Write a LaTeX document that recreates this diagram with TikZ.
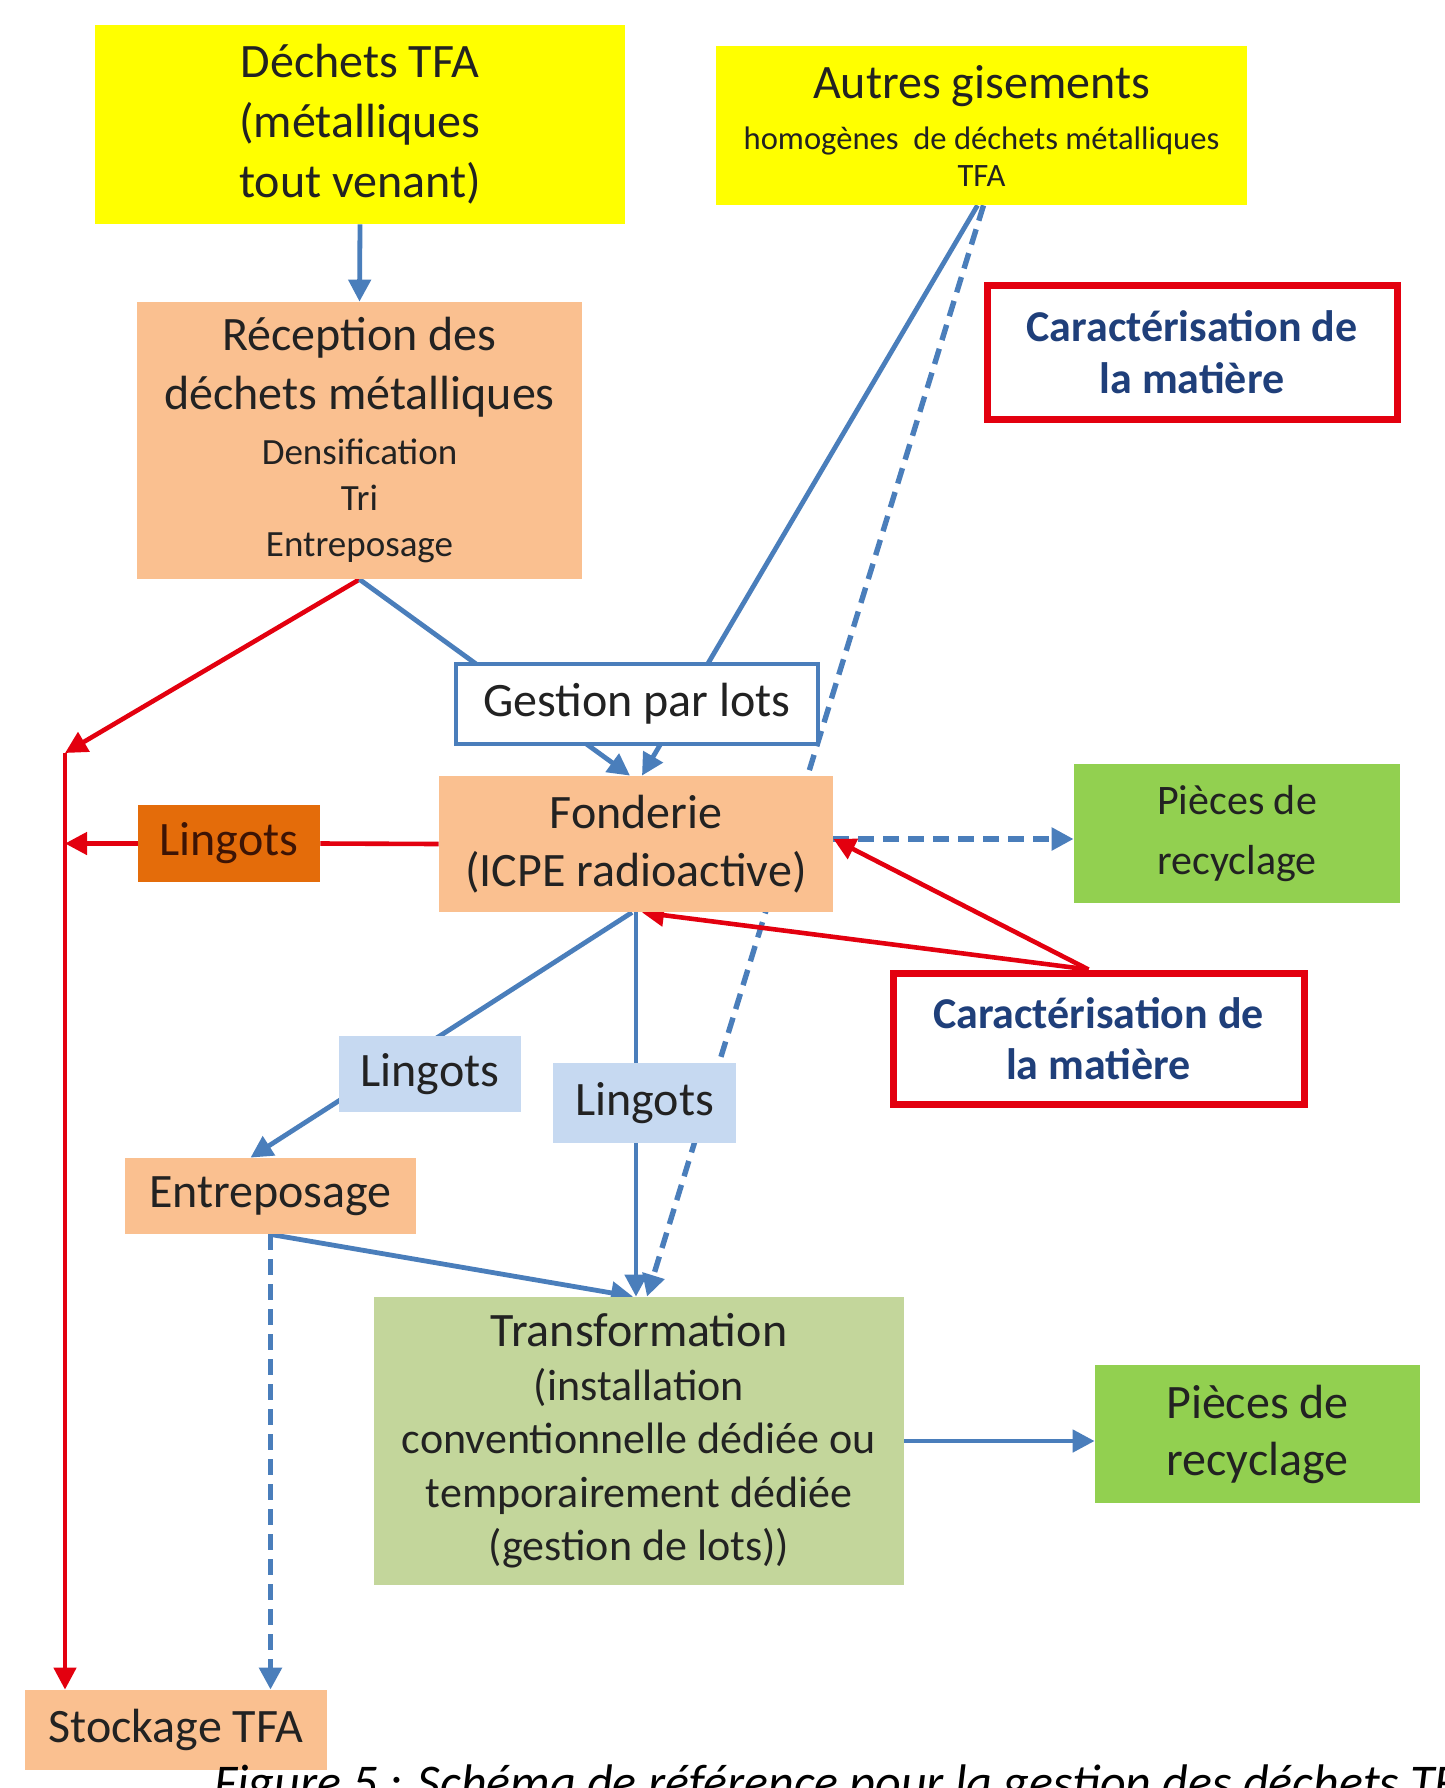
\documentclass[tikz,border=0pt]{standalone}
\usepackage{fontspec}
\setmainfont{Carlito}
\usetikzlibrary{arrows.meta}
\pgfdeclarelayer{bg}
\pgfsetlayers{bg,main}
\definecolor{yel}{HTML}{FFFF00}
\definecolor{peach}{HTML}{FAC090}
\definecolor{dorange}{HTML}{E46C0A}
\definecolor{lgreen}{HTML}{C3D69B}
\definecolor{bgreen}{HTML}{92D050}
\definecolor{lblue}{HTML}{C6D9F1}
\definecolor{lineblue}{HTML}{4A7EBB}
\definecolor{linered}{HTML}{E3000F}
\definecolor{txt}{HTML}{222222}
\definecolor{darktxt}{HTML}{3D1405}
\definecolor{cartxt}{HTML}{1F3F7A}
\newcommand\fsBig{\fontsize{24}{30}\selectfont}
\tikzset{
  box/.style={rectangle, inner sep=0pt, align=center, text=txt},
  carbox/.style={box, fill=white, draw=linered, line width=3.5pt, text=cartxt,
    font=\bfseries\fontsize{22}{26}\selectfont},
  bl/.style={draw=lineblue, line width=2.4pt, -{Triangle[length=11pt,width=11pt]}},
  bln/.style={draw=lineblue, line width=2.4pt},
  bldash/.style={bl, line width=2.7pt, dash pattern=on 8pt off 4.5pt},
  rd/.style={draw=linered, line width=2.3pt, -{Triangle[length=11pt,width=11pt]}},
  rdn/.style={draw=linered, line width=2.3pt},
}
\begin{document}
\begin{tikzpicture}[x=0.5pt,y=-0.5pt]
\useasboundingbox (0,0) rectangle (1445,1788);
\begin{pgfonlayer}{bg}
\fill[white] (0,0) rectangle (1445,1788);
\end{pgfonlayer}

% boxes
\node[box, fill=yel, minimum width=265pt, minimum height=99.5pt, font=\fsBig] (dtfa) at (360,124.5)
  {Déchets TFA\\(métalliques\\tout venant)};
\node[box, fill=yel, minimum width=265.5pt, minimum height=79.5pt, font=\fontsize{16.3}{18.5}\selectfont] (autres) at (981.5,125.5)
  {{\fontsize{24}{26}\selectfont Autres gisements}\\[7pt]homogènes\ \ de déchets métalliques\\TFA};
\node[box, fill=peach, minimum width=222.5pt, minimum height=138.5pt, font=\fontsize{18.5}{23}\selectfont] (recep) at (359.5,440.5)
  {{\fontsize{24}{29}\selectfont Réception des}\\[6.5pt]{\fontsize{24}{29}\selectfont déchets métalliques}\\[4.5pt]Densification\\Tri\\Entreposage};
\node[carbox, minimum width=205pt, minimum height=67pt] (car1) at (1192,352)
  {Caractérisation de\\la matière};
\node[box, fill=white, draw=lineblue, line width=1.7pt, minimum width=181pt, minimum height=40pt, font=\fsBig] (gest) at (637,704)
  {Gestion par lots};
\node[box, fill=peach, minimum width=197pt, minimum height=68pt, font=\fontsize{24}{29}\selectfont] (fond) at (636,844)
  {Fonderie\\(ICPE radioactive)};
\node[box, fill=dorange, minimum width=91pt, minimum height=38.5pt, font=\fsBig, text=darktxt] (lingA) at (229,843.5)
  {Lingots};
\node[box, fill=bgreen, minimum width=163pt, minimum height=69.5pt, font=\fontsize{21}{30}\selectfont] (pieces1) at (1237,833.5)
  {Pièces de\\recyclage};
\node[carbox, minimum width=205.5pt, minimum height=65.5pt, font=\bfseries\fontsize{22}{25.5}\selectfont] (car2) at (1098.5,1038.5)
  {Caractérisation de\\la matière};
\node[box, fill=lblue, minimum width=91pt, minimum height=38pt, font=\fsBig] (lingB) at (430,1074)
  {Lingots};
\node[box, fill=lblue, minimum width=91.5pt, minimum height=40pt, font=\fsBig] (lingC) at (644.5,1103)
  {Lingots};
\node[box, fill=peach, minimum width=145.5pt, minimum height=38pt, font=\fsBig] (entre) at (270.5,1196)
  {Entreposage};
\node[box, fill=lgreen, minimum width=265pt, minimum height=144pt, font=\fontsize{22}{26.75}\selectfont] (transf) at (639,1441)
  {{\fontsize{24}{26.75}\selectfont Transformation}\\(installation\\conventionnelle dédiée ou\\temporairement dédiée\\(gestion de lots))};
\node[box, fill=bgreen, minimum width=162.5pt, minimum height=69pt, font=\fontsize{24}{28.5}\selectfont] (pieces2) at (1257.5,1434)
  {Pièces de\\recyclage};
\node[box, fill=peach, minimum width=151pt, minimum height=40pt, font=\fsBig] (stock) at (176,1730)
  {Stockage TFA};

\begin{scope}
\clip (0,0) rectangle (1445,1788);
\node[anchor=base west, inner sep=0pt, font=\itshape\fontsize{25}{30}\selectfont, text=black] (cap) at (214,1799)
  {Figure 5 : Schéma de référence pour la gestion des déchets TFA};
\end{scope}

\coordinate (J1) at (65,753);

\begin{pgfonlayer}{bg}
\draw[bl] (dtfa.south) -- (recep.north);
\draw[rd] (recep.south) -- (J1);
\draw[rd] (J1) -- (J1 |- stock.north);
\draw[rdn] (fond.west) -- (lingA.east);
\draw[rd] (lingA.west) -- (J1 |- lingA.west);
\draw[bl] (recep.south) -- ([xshift=-3pt]fond.north);
\draw[bl] ([xshift=-2pt]autres.south) -- ([xshift=3pt]fond.north);
\draw[bldash] ([xshift=1pt]autres.south) -- ([xshift=4pt]transf.north);
\draw[bldash] ([yshift=2.5pt]fond.east) -- ([yshift=2.5pt]fond.east -| pieces1.west);
\draw[rd] ([xshift=-5pt]car2.north) -- ([yshift=2.5pt]fond.east);
\draw[rd] ([xshift=-5pt]car2.north) -- ([xshift=3pt]fond.south);
\draw[bl] (fond.south) -- (fond.south |- transf.north);
\draw[bl] ([xshift=-2pt]fond.south) -- ([xshift=-10pt]entre.north);
\draw[bl] (entre.south) -- ([xshift=-3pt]transf.north);
\draw[bldash] (entre.south) -- (entre.south |- stock.north);
\draw[bl] (transf.east) -- (transf.east -| pieces2.west);
\end{pgfonlayer}
\end{tikzpicture}
\end{document}
